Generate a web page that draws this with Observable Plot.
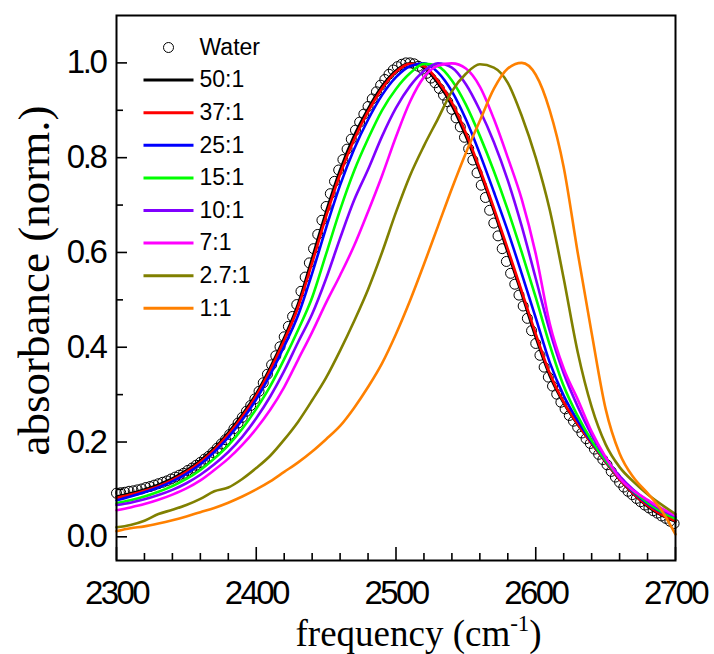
<!DOCTYPE html>
<html>
<head>
<meta charset="utf-8">
<script src="https://cdn.jsdelivr.net/npm/d3@7"></script>
<script src="https://cdn.jsdelivr.net/npm/@observablehq/plot@0.6"></script>
<style>
  html, body { margin: 0; padding: 0; background: #fff; }
  #chart svg { display: block; }
  g[aria-label="x-axis tick label"] text { letter-spacing: -2.6px; }
  g[aria-label="y-axis tick label"] text { letter-spacing: -2.4px; }
  g[aria-label="legend-text"] text { letter-spacing: -0.8px; }
</style>
</head>
<body>
<div id="chart"></div>
<script>
// ---- data ----
const seriesNames = ["Water", "50:1", "37:1", "25:1", "15:1", "10:1", "7:1", "2.7:1", "1:1"];
const seriesColors = ["#000000", "#000000", "#ff0000", "#0000ff", "#00ff00", "#8000ff", "#ff00ff", "#808000", "#ff8000"];

// water (open circles), every 3 cm-1
const waterFreq = [
  2300,2303,2306,2309,2312,2315,2318,2321,2324,2327,
  2330,2333,2336,2339,2342,2345,2348,2351,2354,2357,
  2360,2363,2366,2369,2372,2375,2378,2381,2384,2387,
  2390,2393,2396,2399,2402,2405,2408,2411,2414,2417,
  2420,2423,2426,2429,2432,2435,2438,2441,2444,2447,
  2450,2453,2456,2459,2462,2465,2468,2471,2474,2477,
  2480,2483,2486,2489,2492,2495,2498,2501,2504,2507,
  2510,2513,2516,2519,2522,2525,2528,2531,2534,2537,
  2540,2543,2546,2549,2552,2555,2558,2561,2564,2567,
  2570,2573,2576,2579,2582,2585,2588,2591,2594,2597,
  2600,2603,2606,2609,2612,2615,2618,2621,2624,2627,
  2630,2633,2636,2639,2642,2645,2648,2651,2654,2657,
  2660,2663,2666,2669,2672,2675,2678,2681,2684,2687,
  2690,2693,2696,2699];
const water = [
  0.092,0.093,0.094,0.096,0.097,0.099,0.101,0.104,0.106,0.109,
  0.112,0.115,0.118,0.122,0.126,0.130,0.134,0.140,0.145,0.151,
  0.157,0.164,0.170,0.178,0.187,0.196,0.205,0.216,0.228,0.240,
  0.252,0.265,0.277,0.291,0.307,0.325,0.343,0.363,0.382,0.401,
  0.422,0.444,0.465,0.490,0.518,0.548,0.578,0.608,0.638,0.668,
  0.697,0.724,0.750,0.774,0.796,0.818,0.839,0.858,0.875,0.892,
  0.908,0.924,0.939,0.953,0.965,0.976,0.985,0.992,0.997,1.000,
  1.000,0.998,0.993,0.987,0.978,0.968,0.958,0.946,0.932,0.918,
  0.902,0.884,0.865,0.843,0.819,0.795,0.768,0.742,0.716,0.689,
  0.662,0.635,0.608,0.581,0.556,0.533,0.510,0.487,0.461,0.435,
  0.408,0.383,0.358,0.337,0.318,0.301,0.284,0.270,0.256,0.244,
  0.231,0.219,0.207,0.197,0.185,0.174,0.163,0.152,0.138,0.126,
  0.115,0.105,0.096,0.089,0.081,0.074,0.067,0.061,0.055,0.050,
  0.044,0.039,0.033,0.028];

// mixtures (lines), every 10 cm-1
const lineFreq = [2300,2310,2320,2330,2340,2350,2360,2370,2380,2390,
  2400,2410,2420,2430,2440,2450,2460,2470,2480,2490,
  2500,2510,2520,2530,2540,2550,2560,2570,2580,2590,
  2600,2610,2620,2630,2640,2650,2660,2670,2680,2690,2700];
const r50 = [0.085,0.092,0.100,0.110,0.123,0.140,0.161,0.187,0.220,0.258,
  0.302,0.357,0.420,0.492,0.588,0.686,0.774,0.846,0.903,0.951,
  0.984,0.999,0.990,0.957,0.910,0.845,0.770,0.688,0.600,0.512,
  0.421,0.340,0.282,0.237,0.197,0.158,0.121,0.090,0.064,0.045,0.032];
const r37 = [0.082,0.089,0.097,0.107,0.120,0.137,0.158,0.184,0.216,0.254,
  0.298,0.352,0.414,0.485,0.578,0.676,0.765,0.838,0.897,0.946,
  0.981,0.998,0.993,0.962,0.916,0.852,0.776,0.694,0.607,0.518,
  0.428,0.345,0.284,0.238,0.197,0.158,0.121,0.091,0.066,0.047,0.034];
const r25 = [0.077,0.085,0.094,0.104,0.117,0.133,0.153,0.179,0.210,0.247,
  0.290,0.342,0.402,0.468,0.556,0.652,0.742,0.818,0.880,0.932,
  0.970,0.993,0.999,0.980,0.940,0.881,0.808,0.728,0.645,0.555,
  0.462,0.368,0.298,0.245,0.200,0.160,0.124,0.094,0.070,0.052,0.041];
const r15 = [0.071,0.077,0.085,0.095,0.107,0.122,0.141,0.165,0.193,0.228,
  0.270,0.318,0.375,0.437,0.505,0.597,0.690,0.772,0.840,0.900,
  0.945,0.978,0.998,0.993,0.963,0.912,0.846,0.772,0.690,0.600,
  0.505,0.405,0.318,0.255,0.203,0.161,0.125,0.096,0.072,0.053,0.038];
const r10 = [0.067,0.072,0.079,0.088,0.099,0.113,0.131,0.153,0.179,0.211,
  0.250,0.296,0.350,0.411,0.470,0.545,0.630,0.710,0.775,0.845,
  0.905,0.951,0.983,0.999,0.990,0.955,0.900,0.833,0.752,0.655,
  0.545,0.435,0.345,0.275,0.215,0.166,0.128,0.099,0.076,0.057,0.043];
const r7 = [0.056,0.062,0.069,0.078,0.089,0.102,0.119,0.141,0.165,0.194,
  0.228,0.268,0.316,0.374,0.432,0.494,0.552,0.614,0.686,0.762,
  0.844,0.918,0.970,0.994,0.999,0.988,0.950,0.882,0.800,0.712,
  0.597,0.450,0.355,0.290,0.222,0.168,0.124,0.097,0.078,0.060,0.045];
const r2_7 = [0.020,0.025,0.034,0.048,0.057,0.067,0.080,0.096,0.104,0.122,
  0.145,0.171,0.205,0.243,0.288,0.336,0.393,0.455,0.522,0.600,
  0.685,0.762,0.825,0.882,0.940,0.977,0.997,0.990,0.958,0.888,
  0.800,0.690,0.545,0.390,0.274,0.195,0.147,0.116,0.090,0.068,0.048];
const r1 = [0.012,0.018,0.022,0.028,0.035,0.043,0.052,0.061,0.072,0.085,
  0.100,0.117,0.137,0.157,0.180,0.206,0.234,0.272,0.316,0.366,
  0.428,0.498,0.575,0.655,0.735,0.810,0.878,0.945,0.988,1.000,
  0.975,0.900,0.780,0.600,0.430,0.270,0.176,0.125,0.092,0.056,0.005];

const xMajor = [2300, 2400, 2500, 2600, 2700];
const xMinor = [2320,2340,2360,2380,2420,2440,2460,2480,2520,2540,2560,2580,2620,2640,2660,2680];
const yMajor = [0.0, 0.2, 0.4, 0.6, 0.8, 1.0];
const yMinor = [0.1, 0.3, 0.5, 0.7, 0.9];

// ---- layout ----
const W = 714, H = 654;
const mL = 116, mR = 39, mT = 15, mB = 94;
const xDomain = [2300, 2700], yDomain = [-0.05, 1.10];
const plotW = W - mL - mR, plotH = H - mT - mB;
// pixel -> data helpers for the legend placement
const px2x = d3.scaleLinear([mL, W - mR], xDomain);
const px2y = d3.scaleLinear([H - mB, mT], yDomain);

const lineSeries = [r50, r37, r25, r15, r10, r7, r2_7, r1];
const lineRows = [];
lineSeries.forEach((vals, s) => {
  vals.forEach((v, i) => lineRows.push({freq: lineFreq[i], abs: v, series: seriesNames[s + 1]}));
});
const waterRows = waterFreq.map((f, i) => ({freq: f, abs: water[i]}));

const legendRows = seriesNames.map((name, i) => ({
  name, color: seriesColors[i], i,
  y: px2y(47 + i * 32.6)
}));
const legX1 = px2x(143), legX2 = px2x(193), legXc = px2x(168), legXt = px2x(199);

const chart = Plot.plot({
  width: W, height: H,
  marginLeft: mL, marginRight: mR, marginTop: mT, marginBottom: mB,
  style: {background: "#fff", color: "#000", fontFamily: "'Liberation Sans', Arial, sans-serif"},
  x: {domain: xDomain},
  y: {domain: yDomain},
  color: {domain: seriesNames.slice(1), range: seriesColors.slice(1)},
  marks: [
    // water circles
    Plot.dot(waterRows, {x: "freq", y: "abs", r: 5, stroke: "#000", strokeWidth: 1, fill: "none"}),
    // mixtures
    Plot.line(lineRows, {x: "freq", y: "abs", z: "series", stroke: "series", strokeWidth: 2.6, curve: "monotone-x"}),
    // frame
    Plot.frame({stroke: "#000", strokeWidth: 2}),
    // inward ticks
    Plot.tickX(xMajor, {x: d => d, insetTop: plotH - 13, stroke: "#000", strokeWidth: 1.6}),
    Plot.tickX(xMinor, {x: d => d, insetTop: plotH - 7, stroke: "#000", strokeWidth: 1.6}),
    Plot.tickY(yMajor, {y: d => d, insetRight: plotW - 11, stroke: "#000", strokeWidth: 1.6}),
    Plot.tickY(yMinor, {y: d => d, insetRight: plotW - 7, stroke: "#000", strokeWidth: 1.6}),
    // tick labels
    Plot.axisX({ticks: xMajor, tickSize: 0, tickPadding: 20, tickFormat: d => String(d), fontSize: 33, label: null}),
    Plot.axisY({ticks: yMajor, tickSize: 0, tickPadding: 11, tickFormat: d3.format(".1f"), fontSize: 33, label: null}),
    // axis titles
    Plot.text(["frequency (cm-1)"], {frameAnchor: "bottom-left", dx: 295 - mL, dy: 85, textAnchor: "start", lineAnchor: "bottom",
      fontSize: 37, fontFamily: "'Liberation Serif', 'Times New Roman', serif"}),
    Plot.text(["absorbance (norm.)"], {frameAnchor: "left", rotate: -90, dx: 48 - mL, dy: 280 - (mT + plotH / 2),
      textAnchor: "middle", lineAnchor: "bottom", fontSize: 45, fontFamily: "'Liberation Serif', 'Times New Roman', serif"}),
    // legend
    Plot.dot(legendRows.filter(d => d.i === 0), {x: legXc, y: "y", r: 5, stroke: "#000", strokeWidth: 1, fill: "none"}),
    Plot.link(legendRows.filter(d => d.i > 0), {x1: legX1, x2: legX2, y1: "y", y2: "y", stroke: "color", strokeWidth: 3}),
    Plot.text(legendRows, {x: legXt, y: "y", text: "name", textAnchor: "start", fontSize: 23, fill: "#000", ariaLabel: "legend-text"})
  ]
});

document.getElementById("chart").appendChild(chart);

// superscript for the x title
const ns = "http://www.w3.org/2000/svg";
chart.querySelectorAll("text").forEach(t => {
  if (t.textContent === "frequency (cm-1)") {
    while (t.firstChild) t.removeChild(t.firstChild);
    t.appendChild(document.createTextNode("frequency (cm"));
    const sup = document.createElementNS(ns, "tspan");
    sup.setAttribute("dy", "-15");
    sup.setAttribute("font-size", "23");
    sup.textContent = "-1";
    const close = document.createElementNS(ns, "tspan");
    close.setAttribute("dy", "15");
    close.setAttribute("font-size", "37");
    close.textContent = ")";
    t.appendChild(sup);
    t.appendChild(close);
  }
});
</script>
</body>
</html>
